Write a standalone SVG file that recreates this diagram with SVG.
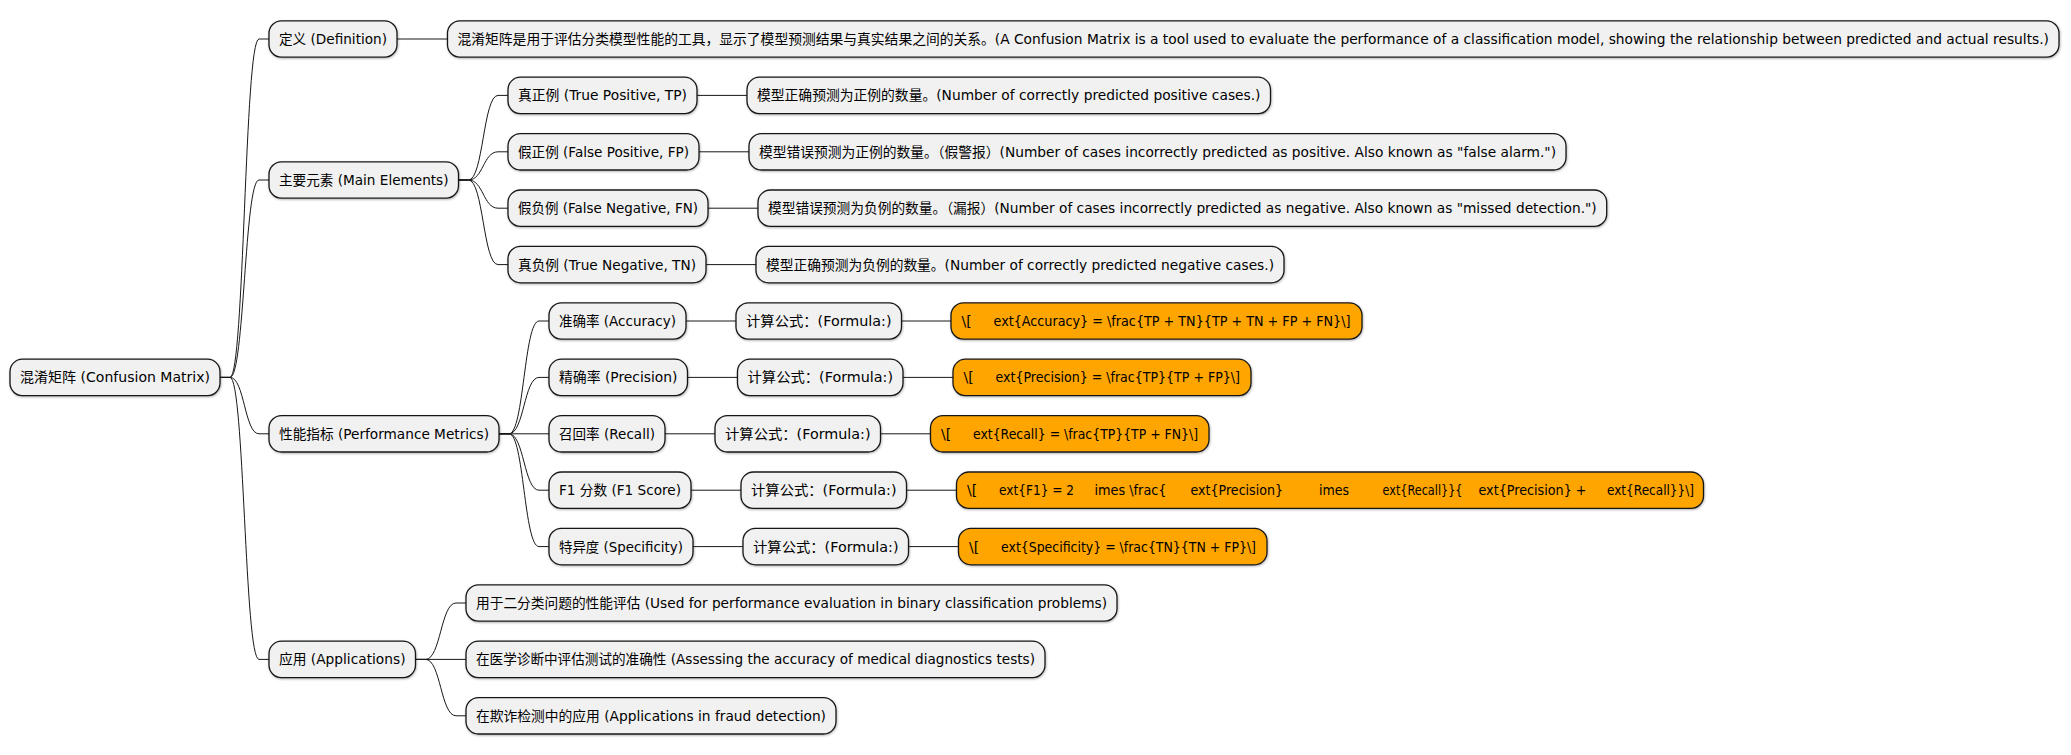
<svg xmlns="http://www.w3.org/2000/svg" width="2071" height="755" viewBox="0 0 2071 755">
<defs>
<filter id="sh" x="-5%" y="-20%" width="110%" height="150%">
<feDropShadow dx="0.6" dy="1" stdDeviation="0.8" flood-color="#000" flood-opacity="0.3"/>
</filter>
<style>
.n rect{fill:#F1F1F1;stroke:#181818;stroke-width:1.3;filter:url(#sh)}
.f rect{fill:#FFA500;stroke:#181818;stroke-width:1.3;filter:url(#sh)}
text{font-family:"DejaVu Sans","Noto Sans CJK SC",sans-serif;font-size:14px;fill:#000}
#connectors path{fill:none;stroke:#181818;stroke-width:1}
</style>
</defs>
<rect width="2071" height="755" fill="#FFFFFF"/>
<g id="connectors">
<path d="M220 377.4 H230 C244.5 377.4 244.5 39 259 39 H269"/>
<path d="M220 377.4 H230 C244.5 377.4 244.5 180 259 180 H269"/>
<path d="M220 377.4 H230 C244.5 377.4 244.5 433.8 259 433.8 H269"/>
<path d="M220 377.4 H230 C244.5 377.4 244.5 659.4 259 659.4 H269"/>
<path d="M397 39 H447.5"/>
<path d="M458.5 180 H468.5 C483.25 180 483.25 95.4 498 95.4 H508"/>
<path d="M458.5 180 H468.5 C483.25 180 483.25 151.8 498 151.8 H508"/>
<path d="M458.5 180 H468.5 C483.25 180 483.25 208.2 498 208.2 H508"/>
<path d="M458.5 180 H468.5 C483.25 180 483.25 264.6 498 264.6 H508"/>
<path d="M697 95.4 H747"/>
<path d="M699 151.8 H749"/>
<path d="M708 208.2 H758"/>
<path d="M706 264.6 H756"/>
<path d="M499 433.8 H509 C524 433.8 524 321 539 321 H549"/>
<path d="M499 433.8 H509 C524 433.8 524 377.4 539 377.4 H549"/>
<path d="M499 433.8 H549"/>
<path d="M499 433.8 H509 C524 433.8 524 490.2 539 490.2 H549"/>
<path d="M499 433.8 H509 C524 433.8 524 546.6 539 546.6 H549"/>
<path d="M686 321 H736"/>
<path d="M687.5 377.4 H737.5"/>
<path d="M665 433.8 H715"/>
<path d="M691 490.2 H741"/>
<path d="M693 546.6 H743"/>
<path d="M901.5 321 H951"/>
<path d="M903 377.4 H953"/>
<path d="M880.5 433.8 H930.5"/>
<path d="M906.5 490.2 H956.5"/>
<path d="M908.5 546.6 H958.5"/>
<path d="M415.5 659.4 H425.5 C440.75 659.4 440.75 603 456 603 H466"/>
<path d="M415.5 659.4 H466"/>
<path d="M415.5 659.4 H425.5 C440.75 659.4 440.75 715.8 456 715.8 H466"/>
</g>
<g id="root" class="n"><rect x="10" y="359.2" width="210" height="36.4" rx="12.5"/><text x="20" y="382.4" textLength="190" lengthAdjust="spacingAndGlyphs">混淆矩阵 (Confusion Matrix)</text></g>
<g id="definition" class="n"><rect x="269" y="20.8" width="128" height="36.4" rx="12.5"/><text x="279" y="44" textLength="108" lengthAdjust="spacingAndGlyphs">定义 (Definition)</text></g>
<g id="definition-text" class="n"><rect x="447.5" y="20.8" width="1611.5" height="36.4" rx="12.5"/><text x="457.5" y="44" textLength="1591.5" lengthAdjust="spacingAndGlyphs">混淆矩阵是用于评估分类模型性能的工具，显示了模型预测结果与真实结果之间的关系。(A Confusion Matrix is a tool used to evaluate the performance of a classification model, showing the relationship between predicted and actual results.)</text></g>
<g id="main-elements" class="n"><rect x="269" y="161.8" width="189.5" height="36.4" rx="12.5"/><text x="279" y="185" textLength="169.5" lengthAdjust="spacingAndGlyphs">主要元素 (Main Elements)</text></g>
<g id="tp" class="n"><rect x="508" y="77.2" width="189" height="36.4" rx="12.5"/><text x="518" y="100.4" textLength="169" lengthAdjust="spacingAndGlyphs">真正例 (True Positive, TP)</text></g>
<g id="tp-desc" class="n"><rect x="747" y="77.2" width="523.5" height="36.4" rx="12.5"/><text x="757" y="100.4" textLength="503.5" lengthAdjust="spacingAndGlyphs">模型正确预测为正例的数量。(Number of correctly predicted positive cases.)</text></g>
<g id="fp" class="n"><rect x="508" y="133.6" width="191" height="36.4" rx="12.5"/><text x="518" y="156.8" textLength="171" lengthAdjust="spacingAndGlyphs">假正例 (False Positive, FP)</text></g>
<g id="fp-desc" class="n"><rect x="749" y="133.6" width="817" height="36.4" rx="12.5"/><text x="759" y="156.8" textLength="797" lengthAdjust="spacingAndGlyphs">模型错误预测为正例的数量。（假警报）(Number of cases incorrectly predicted as positive. Also known as "false alarm.")</text></g>
<g id="fn" class="n"><rect x="508" y="190" width="200" height="36.4" rx="12.5"/><text x="518" y="213.2" textLength="180" lengthAdjust="spacingAndGlyphs">假负例 (False Negative, FN)</text></g>
<g id="fn-desc" class="n"><rect x="758" y="190" width="848.7" height="36.4" rx="12.5"/><text x="768" y="213.2" textLength="828.7" lengthAdjust="spacingAndGlyphs">模型错误预测为负例的数量。（漏报）(Number of cases incorrectly predicted as negative. Also known as "missed detection.")</text></g>
<g id="tn" class="n"><rect x="508" y="246.4" width="198" height="36.4" rx="12.5"/><text x="518" y="269.6" textLength="178" lengthAdjust="spacingAndGlyphs">真负例 (True Negative, TN)</text></g>
<g id="tn-desc" class="n"><rect x="756" y="246.4" width="528" height="36.4" rx="12.5"/><text x="766" y="269.6" textLength="508" lengthAdjust="spacingAndGlyphs">模型正确预测为负例的数量。(Number of correctly predicted negative cases.)</text></g>
<g id="performance-metrics" class="n"><rect x="269" y="415.6" width="230" height="36.4" rx="12.5"/><text x="279" y="438.8" textLength="210" lengthAdjust="spacingAndGlyphs">性能指标 (Performance Metrics)</text></g>
<g id="accuracy" class="n"><rect x="549" y="302.8" width="137" height="36.4" rx="12.5"/><text x="559" y="326" textLength="117" lengthAdjust="spacingAndGlyphs">准确率 (Accuracy)</text></g>
<g id="accuracy-label" class="n"><rect x="736" y="302.8" width="165.5" height="36.4" rx="12.5"/><text x="746" y="326" textLength="145.5" lengthAdjust="spacingAndGlyphs">计算公式：(Formula:)</text></g>
<g id="accuracy-formula" class="f"><rect x="951" y="302.8" width="411" height="36.4" rx="12.5"/><text y="326"><tspan x="961.5">\[</tspan><tspan x="993.5" textLength="357" lengthAdjust="spacingAndGlyphs">ext{Accuracy} = \frac{TP + TN}{TP + TN + FP + FN}\]</tspan></text></g>
<g id="precision" class="n"><rect x="549" y="359.2" width="138.5" height="36.4" rx="12.5"/><text x="559" y="382.4" textLength="118.5" lengthAdjust="spacingAndGlyphs">精确率 (Precision)</text></g>
<g id="precision-label" class="n"><rect x="737.5" y="359.2" width="165.5" height="36.4" rx="12.5"/><text x="747.5" y="382.4" textLength="145.5" lengthAdjust="spacingAndGlyphs">计算公式：(Formula:)</text></g>
<g id="precision-formula" class="f"><rect x="953" y="359.2" width="298" height="36.4" rx="12.5"/><text y="382.4"><tspan x="963.5">\[</tspan><tspan x="995.5" textLength="244.5" lengthAdjust="spacingAndGlyphs">ext{Precision} = \frac{TP}{TP + FP}\]</tspan></text></g>
<g id="recall" class="n"><rect x="549" y="415.6" width="116" height="36.4" rx="12.5"/><text x="559" y="438.8" textLength="96" lengthAdjust="spacingAndGlyphs">召回率 (Recall)</text></g>
<g id="recall-label" class="n"><rect x="715" y="415.6" width="165.5" height="36.4" rx="12.5"/><text x="725" y="438.8" textLength="145.5" lengthAdjust="spacingAndGlyphs">计算公式：(Formula:)</text></g>
<g id="recall-formula" class="f"><rect x="930.5" y="415.6" width="278.5" height="36.4" rx="12.5"/><text y="438.8"><tspan x="941">\[</tspan><tspan x="973" textLength="225" lengthAdjust="spacingAndGlyphs">ext{Recall} = \frac{TP}{TP + FN}\]</tspan></text></g>
<g id="f1" class="n"><rect x="549" y="472" width="142" height="36.4" rx="12.5"/><text x="559" y="495.2" textLength="122" lengthAdjust="spacingAndGlyphs">F1 分数 (F1 Score)</text></g>
<g id="f1-label" class="n"><rect x="741" y="472" width="165.5" height="36.4" rx="12.5"/><text x="751" y="495.2" textLength="145.5" lengthAdjust="spacingAndGlyphs">计算公式：(Formula:)</text></g>
<g id="f1-formula" class="f"><rect x="956.5" y="472" width="747" height="36.4" rx="12.5"/><text y="495.2"><tspan x="967">\[</tspan><tspan x="999" textLength="75" lengthAdjust="spacingAndGlyphs">ext{F1} = 2</tspan><tspan x="1094.5" textLength="72" lengthAdjust="spacingAndGlyphs">imes \frac{</tspan><tspan x="1190.5" textLength="92.5" lengthAdjust="spacingAndGlyphs">ext{Precision}</tspan><tspan x="1319" textLength="30" lengthAdjust="spacingAndGlyphs">imes</tspan><tspan x="1382.5" textLength="80" lengthAdjust="spacingAndGlyphs">ext{Recall}}{</tspan><tspan x="1478.5" textLength="108" lengthAdjust="spacingAndGlyphs">ext{Precision} +</tspan><tspan x="1607" textLength="87" lengthAdjust="spacingAndGlyphs">ext{Recall}}\]</tspan></text></g>
<g id="specificity" class="n"><rect x="549" y="528.4" width="144" height="36.4" rx="12.5"/><text x="559" y="551.6" textLength="124" lengthAdjust="spacingAndGlyphs">特异度 (Specificity)</text></g>
<g id="specificity-label" class="n"><rect x="743" y="528.4" width="165.5" height="36.4" rx="12.5"/><text x="753" y="551.6" textLength="145.5" lengthAdjust="spacingAndGlyphs">计算公式：(Formula:)</text></g>
<g id="specificity-formula" class="f"><rect x="958.5" y="528.4" width="308.5" height="36.4" rx="12.5"/><text y="551.6"><tspan x="969">\[</tspan><tspan x="1001" textLength="255" lengthAdjust="spacingAndGlyphs">ext{Specificity} = \frac{TN}{TN + FP}\]</tspan></text></g>
<g id="applications" class="n"><rect x="269" y="641.2" width="146.5" height="36.4" rx="12.5"/><text x="279" y="664.4" textLength="126.5" lengthAdjust="spacingAndGlyphs">应用 (Applications)</text></g>
<g id="app1" class="n"><rect x="466" y="584.8" width="651" height="36.4" rx="12.5"/><text x="476" y="608" textLength="631" lengthAdjust="spacingAndGlyphs">用于二分类问题的性能评估 (Used for performance evaluation in binary classification problems)</text></g>
<g id="app2" class="n"><rect x="466" y="641.2" width="579" height="36.4" rx="12.5"/><text x="476" y="664.4" textLength="559" lengthAdjust="spacingAndGlyphs">在医学诊断中评估测试的准确性 (Assessing the accuracy of medical diagnostics tests)</text></g>
<g id="app3" class="n"><rect x="466" y="697.6" width="370" height="36.4" rx="12.5"/><text x="476" y="720.8" textLength="350" lengthAdjust="spacingAndGlyphs">在欺诈检测中的应用 (Applications in fraud detection)</text></g>
</svg>
